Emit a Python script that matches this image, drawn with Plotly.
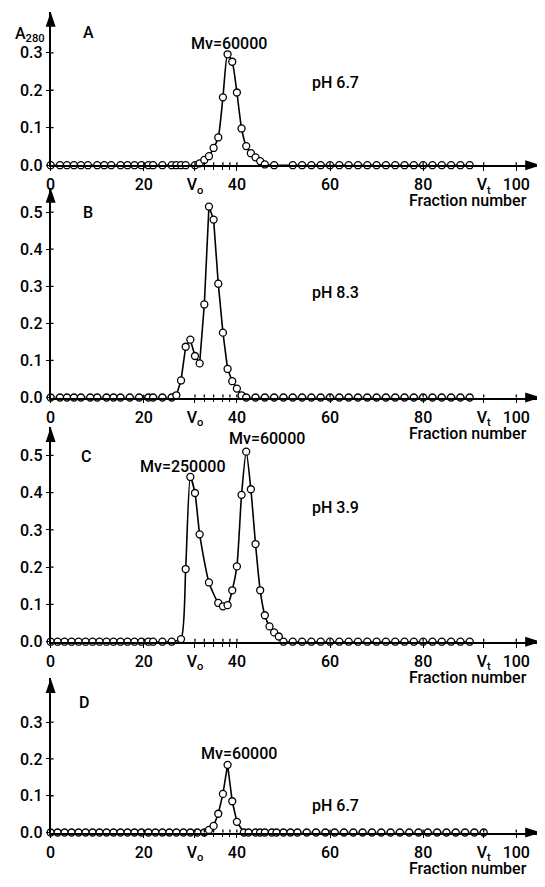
import plotly.graph_objects as go

# page body has an 8 px margin, so the figure is sized to fill the rest of the window
OFF = 8
W, H = 545 - OFF, 887 - OFF

# ---------------- data ----------------
frac_A = [0, 2, 3.5, 5, 6.5, 8, 10, 11.5, 13, 15, 16.5, 18, 19.5, 21, 22, 24, 26, 27, 28, 29, 31,
          32, 33, 34, 35, 36, 37, 38, 39, 40, 41, 42, 43, 44, 45, 46,
          48, 52, 54, 56, 58, 60, 62, 64, 66, 68, 70, 72, 74, 76, 78, 80, 82, 84, 86, 88, 90]
a280_A = [0, 0, 0, 0, 0, 0, 0, 0, 0, 0, 0, 0, 0, 0, 0, 0, 0, 0, 0, 0, 0,
          0.005, 0.014, 0.024, 0.046, 0.074, 0.181, 0.296, 0.276, 0.194, 0.098, 0.051, 0.032, 0.021, 0.011, 0.002,
          0, 0, 0, 0, 0, 0, 0, 0, 0, 0, 0, 0, 0, 0, 0, 0, 0, 0, 0, 0, 0]

frac_B = [0, 2, 3.5, 5, 6.5, 8.5, 10, 12, 13.5, 15, 17, 19, 21, 22, 24, 26,
          27, 28, 29, 30, 31, 32, 33, 34, 35, 36, 37, 38, 39, 40, 41,
          42, 44, 46, 48, 50, 52, 54, 56, 58, 60, 62, 64, 66, 68, 70, 72, 74, 76, 78, 80, 82, 84, 86, 88, 90]
a280_B = [0, 0, 0, 0, 0, 0, 0, 0, 0, 0, 0, 0, 0, 0, 0, 0,
          0.006, 0.046, 0.137, 0.156, 0.112, 0.092, 0.251, 0.515, 0.48, 0.307, 0.175, 0.077, 0.044, 0.024, 0.006,
          0, 0, 0, 0, 0, 0, 0, 0, 0, 0, 0, 0, 0, 0, 0, 0, 0, 0, 0, 0, 0, 0, 0, 0, 0, 0]

frac_C = [0, 1.5, 3, 4.5, 6, 7.5, 9, 10.5, 12, 13.5, 15, 16.5, 18, 19.5, 21, 22, 24, 26,
          28, 29, 30, 31, 32, 34, 36, 37, 38, 39, 40, 41, 42, 43, 44, 45, 46, 47, 48, 49,
          50, 52, 54, 56, 58, 60, 62, 64, 66, 68, 70, 72, 74, 76, 78, 80, 82, 84, 86, 88, 90]
a280_C = [0, 0, 0, 0, 0, 0, 0, 0, 0, 0, 0, 0, 0, 0, 0, 0, 0, 0,
          0.007, 0.195, 0.442, 0.399, 0.288, 0.159, 0.104, 0.095, 0.098, 0.138, 0.202, 0.394, 0.51, 0.409,
          0.262, 0.138, 0.071, 0.041, 0.025, 0.014,
          0, 0, 0, 0, 0, 0, 0, 0, 0, 0, 0, 0, 0, 0, 0, 0, 0, 0, 0, 0, 0]

frac_D = [0, 1.5, 3, 4.5, 6, 7.5, 9, 10.5, 12, 13.5, 15, 16.5, 18, 19.5, 21, 22.5, 24, 25.5, 27, 28.5,
          30, 31.5, 33, 34, 35, 36, 37, 38, 39, 40, 41.5, 42.5, 44, 45, 46, 47.5, 48.5, 50, 51.5, 53,
          55, 57, 59, 61, 63, 65, 67, 69, 71, 73, 75, 77, 79, 81, 83, 85, 87, 89, 91, 93]
a280_D = [0, 0, 0, 0, 0, 0, 0, 0, 0, 0, 0, 0, 0, 0, 0, 0, 0, 0, 0, 0,
          0, 0, 0, 0.007, 0.018, 0.051, 0.105, 0.184, 0.085, 0.029, 0, 0, 0, 0, 0, 0, 0, 0, 0, 0,
          0, 0, 0, 0, 0, 0, 0, 0, 0, 0, 0, 0, 0, 0, 0, 0, 0, 0, 0, 0]

x_tickvals = [0, 20, 31, 40, 60, 80, 93, 100]
x_ticktext = ["0", "20", "V<sub>o</sub>", "40", "60", "80", "V<sub>t</sub>", "100"]
x_minor_ticks = [33, 35, 37, 38.5]

panel_letters = ["A", "B", "C", "D"]
ph_labels = ["pH 6.7", "pH 8.3", "pH 3.9", "pH 6.7"]

# ---------------- layout geometry (window pixels) ----------------
FONT = "Roboto"
FS = 16
X0, X1 = 46, 540
PXF = 4.70
xr = [0, (X1 - X0) / PXF]

def pxx(x):
    return (x - OFF) / W

def pxy(y):
    return 1 - (y - OFF) / H

panels = [
    dict(x=frac_A, y=a280_A, bottom=167, top=12, p01=37.9, yt=[0, 0.1, 0.2, 0.3], shape="spline"),
    dict(x=frac_B, y=a280_B, bottom=402, top=190, p01=37.5, yt=[0, 0.1, 0.2, 0.3, 0.4, 0.5], shape="linear"),
    dict(x=frac_C, y=a280_C, bottom=649, top=432, p01=37.7, yt=[0, 0.1, 0.2, 0.3, 0.4, 0.5], shape="spline"),
    dict(x=frac_D, y=a280_D, bottom=842, top=686, p01=37.2, yt=[0, 0.1, 0.2, 0.3], shape="linear"),
]

fig = go.Figure()
shapes = []
layout = dict(width=W, height=H, margin=dict(l=0, r=0, t=0, b=0),
              paper_bgcolor="white", plot_bgcolor="white", showlegend=False,
              font=dict(family=FONT, size=FS, color="black"))

tf = dict(family=FONT, size=FS, color="black", weight=500)
tick_line = dict(color="black", width=1.3)
for i, p in enumerate(panels):
    n = "" if i == 0 else str(i + 1)
    fig.add_trace(go.Scatter(
        x=p["x"], y=p["y"], xaxis="x" + n, yaxis="y" + n, mode="lines+markers",
        line=dict(color="black", width=1.6, shape=p["shape"], smoothing=0.6),
        marker=dict(symbol="circle", size=7, color="white", line=dict(color="black", width=1.3)),
        cliponaxis=False, hoverinfo="skip"))
    ytop = (p["bottom"] - p["top"]) / p["p01"] * 0.1
    layout["xaxis" + n] = dict(
        domain=[pxx(X0), pxx(X1)], range=xr, anchor="y" + n,
        showline=True, linecolor="black", linewidth=1.6, showgrid=False, zeroline=False,
        tickmode="array", tickvals=x_tickvals, ticktext=x_ticktext,
        ticks="outside", ticklen=4, tickwidth=1.3, tickcolor="black", tickfont=tf,
        minor=dict(tickmode="array", tickvals=x_minor_ticks, ticks="outside", ticklen=3,
                   tickwidth=1.2, tickcolor="black", showgrid=False))
    layout["yaxis" + n] = dict(
        domain=[pxy(p["bottom"]), pxy(p["top"])], range=[0, ytop], anchor="x" + n,
        showline=True, linecolor="black", linewidth=1.6, showgrid=False, zeroline=False,
        tickmode="array", tickvals=p["yt"], tickformat=".1f",
        ticks="outside", ticklen=3, tickwidth=1.3, tickcolor="black", tickfont=tf)
    # inner halves of the crossing ticks
    for v in p["yt"][1:]:
        shapes.append(dict(type="line", xref="paper", yref="y" + n, x0=pxx(X0), x1=pxx(X0 + 3),
                           y0=v, y1=v, line=tick_line))
    for v in x_tickvals[1:] + x_minor_ticks:
        shapes.append(dict(type="line", xref="x" + n, yref="paper", x0=v, x1=v,
                           y0=pxy(p["bottom"]), y1=pxy(p["bottom"] - 3), line=tick_line))
    # arrow heads
    shapes.append(dict(type="path", xref="paper", yref="paper", fillcolor="black", line=dict(width=0),
                       path=f"M {pxx(X0-5)} {pxy(p['top']+15)} L {pxx(X0+5)} {pxy(p['top']+15)} L {pxx(X0)} {pxy(p['top'])} Z"))
    b = p["bottom"]
    shapes.append(dict(type="path", xref="paper", yref="paper", fillcolor="black", line=dict(width=0),
                       path=f"M {pxx(X1-15)} {pxy(b-5)} L {pxx(X1-15)} {pxy(b+5)} L {pxx(X1+1)} {pxy(b)} Z"))

anns = []
def ann(text, x, y, xanchor="center"):
    anns.append(dict(text=text, x=pxx(x), y=pxy(y), xref="paper", yref="paper", showarrow=False,
                     xanchor=xanchor, yanchor="middle", font=tf))

ann("A<sub>280</sub>", 25, 35)
letter_pos = [(84, 33), (84, 215), (82, 462), (80, 710)]
for L, (x, y) in zip(panel_letters, letter_pos):
    ann(L, x, y)
ph_pos = [83, 296, 513, 815]
for t, y in zip(ph_labels, ph_pos):
    ann(t, 308, y, xanchor="left")
for p in panels:
    ann("Fraction number", 467, p["bottom"] + 36)
ann("Mv=60000", 226, 44)
ann("Mv=60000", 264, 443)
ann("Mv=250000", 180, 472)
ann("Mv=60000", 236, 762)

layout["shapes"] = shapes
layout["annotations"] = anns
fig.update_layout(**layout)
fig.write_html("out.html")
